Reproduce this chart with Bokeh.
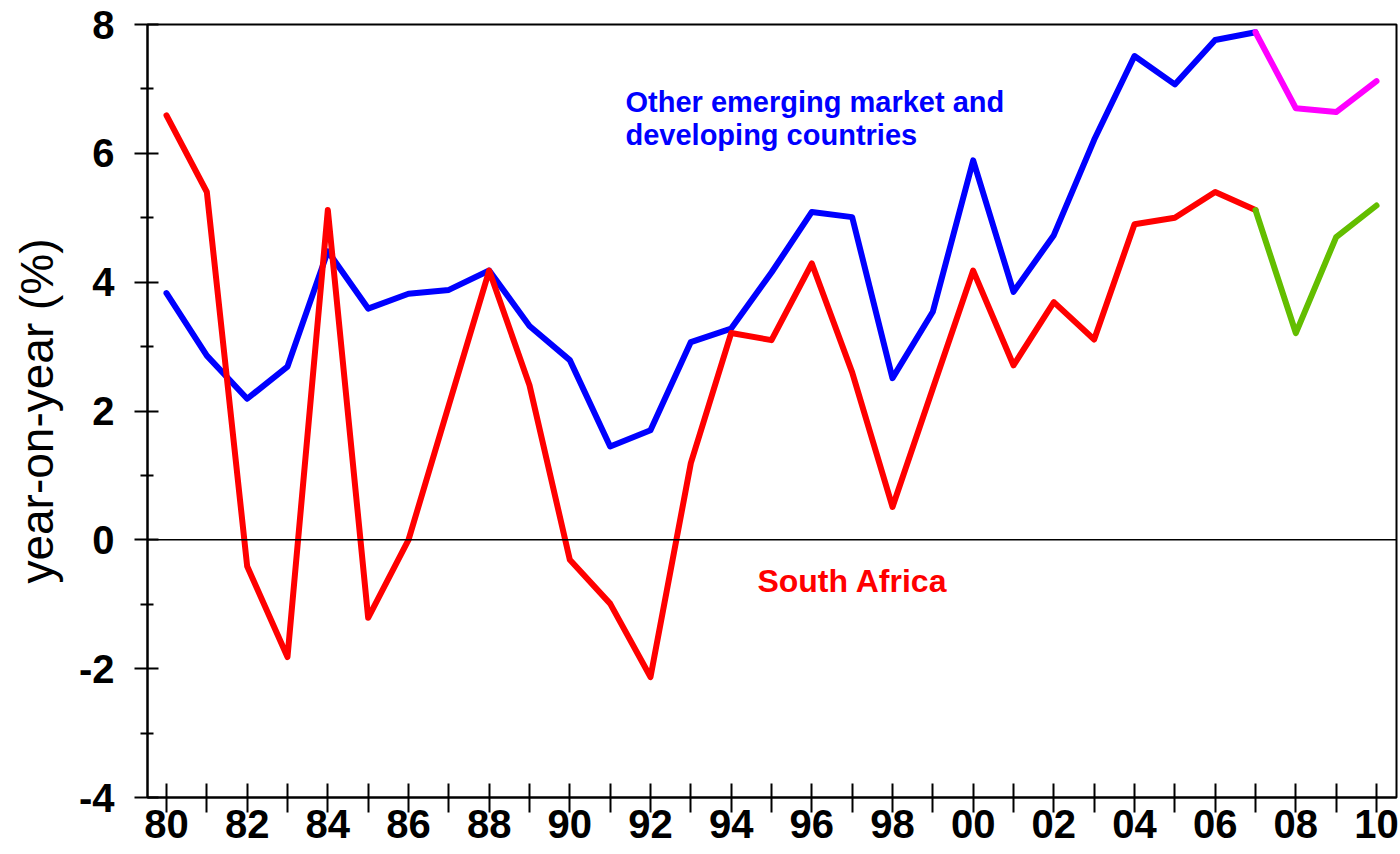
from bokeh.plotting import figure
from bokeh.models import Range1d, FixedTicker, Span, Label
from bokeh.embed import file_html
from bokeh.resources import INLINE

years_hist = list(range(1980, 2008))
years_fc = [2007, 2008, 2009, 2010]
all_years = list(range(1980, 2011))

emerging = [3.83, 2.86, 2.19, 2.69, 4.48, 3.59, 3.82, 3.88, 4.18, 3.32,
            2.79, 1.45, 1.70, 3.07, 3.28, 4.15, 5.09, 5.01, 2.51, 3.54,
            5.89, 3.85, 4.73, 6.21, 7.51, 7.07, 7.76, 7.88]
emerging_fc = [7.88, 6.70, 6.64, 7.12]

south_africa = [6.59, 5.40, -0.41, -1.82, 5.12, -1.21, 0.0, 2.09, 4.18, 2.40,
                -0.31, -0.99, -2.13, 1.19, 3.21, 3.10, 4.29, 2.60, 0.51, 2.35,
                4.18, 2.71, 3.69, 3.11, 4.90, 5.00, 5.40, 5.12]
south_africa_fc = [5.12, 3.21, 4.70, 5.19]

y_major = [-4, -2, 0, 2, 4, 6, 8]
y_minor = [-3, -1, 1, 3, 5, 7]
y_labels = {v: str(v) for v in y_major}
x_labels = {y: (f"{y % 100:02d}" if y % 2 == 0 else "") for y in all_years}

FONT = "Liberation Sans"

p = figure(width=1400, height=854, output_backend="svg", toolbar_location=None,
           x_range=Range1d(1979.529, 2010.496), y_range=Range1d(-4, 8),
           min_border_left=147, min_border_right=4, min_border_top=24,
           min_border_bottom=57)

p.xgrid.grid_line_color = None
p.ygrid.grid_line_color = None
p.outline_line_color = "black"
p.outline_line_width = 2
p.outline_line_alpha = 1.0
p.background_fill_color = "white"
p.border_fill_color = "white"

# x axis
xa = p.xaxis[0]
xa.ticker = FixedTicker(ticks=all_years)
xa.major_label_overrides = x_labels
xa.major_tick_in = 14
xa.major_tick_out = 15
xa.minor_tick_in = 0
xa.minor_tick_out = 0
xa.axis_line_width = 2
xa.major_tick_line_width = 2
xa.major_label_text_font = FONT
xa.major_label_text_font_style = "bold"
xa.major_label_text_font_size = "40px"
xa.major_label_text_color = "black"
xa.major_label_standoff = -3

# y axis
ya = p.yaxis[0]
ya.ticker = FixedTicker(ticks=y_major, minor_ticks=y_minor)
ya.major_label_overrides = y_labels
ya.major_tick_in = 11
ya.major_tick_out = 13
ya.minor_tick_in = 6
ya.minor_tick_out = 7
ya.axis_line_width = 2
ya.major_tick_line_width = 2
ya.minor_tick_line_width = 2
ya.major_label_text_font = FONT
ya.major_label_text_font_style = "bold"
ya.major_label_text_font_size = "40px"
ya.major_label_text_color = "black"
ya.major_label_standoff = 20
ya.axis_label = "year-on-year (%)"
ya.axis_label_text_font = FONT
ya.axis_label_text_font_style = "normal"
ya.axis_label_text_font_size = "46px"
ya.axis_label_text_color = "black"
ya.axis_label_standoff = 13

p.add_layout(Span(location=0, dimension="width", line_color="black", line_width=1.5))

lw = 6
p.line(years_hist, emerging, line_color="#0000FF", line_width=lw, line_join="round", line_cap="round")
p.line(years_fc, emerging_fc, line_color="#FF00FF", line_width=lw, line_join="round", line_cap="round")
p.line(years_hist, south_africa, line_color="#FF0000", line_width=lw, line_join="round", line_cap="round")
p.line(years_fc, south_africa_fc, line_color="#63BE00", line_width=lw, line_join="round", line_cap="round")

p.add_layout(Label(x=1991.38, y=6.80, text="Other emerging market and",
                   text_font=FONT, text_font_style="bold", text_font_size="29px",
                   text_color="#0000FF", text_baseline="alphabetic", text_align="left"))
p.add_layout(Label(x=1991.38, y=6.29, text="developing countries",
                   text_font=FONT, text_font_style="bold", text_font_size="29px",
                   text_color="#0000FF", text_baseline="alphabetic", text_align="left"))
p.add_layout(Label(x=1994.65, y=-0.64, text="South Africa",
                   text_font=FONT, text_font_style="bold", text_font_size="32px",
                   text_color="#FF0000", text_baseline="alphabetic", text_align="left"))

open("out.html", "w").write(file_html(p, INLINE))
